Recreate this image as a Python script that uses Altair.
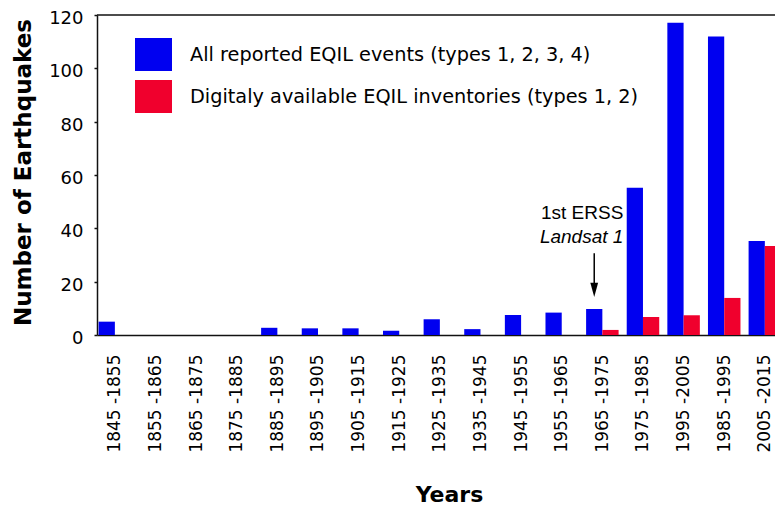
import altair as alt
import pandas as pd

categories = ["1845 -1855", "1855 -1865", "1865 -1875", "1875 -1885", "1885 -1895",
              "1895 -1905", "1905 -1915", "1915 -1925", "1925 -1935", "1935 -1945",
              "1945 -1955", "1955 -1965", "1965 -1975", "1975 -1985", "1995 -2005",
              "1985 -1995", "2005 -2015"]
all_events = [5.0, 0, 0, 0, 2.7, 2.5, 2.5, 1.6, 5.9, 2.2, 7.5, 8.4, 9.75, 55.2, 117.1, 111.9, 35.25]
digital = [0, 0, 0, 0, 0, 0, 0, 0, 0, 0, 0, 0, 1.9, 6.75, 7.4, 13.9, 33.4]
series_names = ["All reported EQIL events (types 1, 2, 3, 4)",
                "Digitaly available EQIL inventories (types 1, 2)"]
colors = ["#0000F0", "#F0002D"]
y_ticks = [0, 20, 40, 60, 80, 100, 120]

annot_category = "1965 -1975"
annot_lines = ["1st ERSS", "Landsat 1"]
annot_y = [45.75, 36.75]
arrow_start = 30.7
arrow_tip = 16.9

# part of a category slot taken by one bar
bar_w = 0.4

rows = []
for i, (c, a, d) in enumerate(zip(categories, all_events, digital)):
    rows.append({"idx": i, "category": c, "series": series_names[0], "value": a, "side": -1})
    rows.append({"idx": i, "category": c, "series": series_names[1], "value": d, "side": 1})
df = pd.DataFrame(rows)

label_expr = "[" + ",".join("'" + c + "'" for c in categories) + "][datum.value]"

xscale = alt.Scale(domain=[-0.44, 16.25], nice=False, zero=False)
yscale = alt.Scale(domain=[0, 120], nice=False)
axis_color = "#111111"

x_axis = alt.Axis(title="Years", titleFont="DejaVu Sans", titleFontSize=22,
                  titleFontWeight="bold", titleColor="black",
                  titleX=352, titleY=166, titleBaseline="alphabetic", titleAlign="center",
                  values=list(range(len(categories))), labelExpr=label_expr,
                  labelAngle=270, labelAlign="right", labelBaseline="middle",
                  labelFont="DejaVu Sans", labelFontSize=17, labelColor="black",
                  labelPadding=19, ticks=False, tickSize=0, grid=False,
                  domainColor=axis_color, domainWidth=1.5, labelOverlap=False,
                  labelFlush=False)

y_axis = alt.Axis(title="Number of Earthquakes", values=y_ticks, grid=False,
                  titleFont="DejaVu Sans", titleFontSize=23, titleFontWeight="bold",
                  titleColor="black", titleX=-67, titleY=157, titleAngle=270,
                  titleBaseline="alphabetic", titleAlign="center",
                  labelFont="DejaVu Sans", labelFontSize=18, labelColor="black",
                  labelPadding=11, labelOffset=3.5, tickSize=3, tickColor=axis_color,
                  tickWidth=1.5, domainColor=axis_color, domainWidth=1.5)

legend = alt.Legend(title=None, orient="none", legendX=38, legendY=21,
                    symbolType="M-1,-0.89L1,-0.89L1,0.89L-1,0.89Z", symbolSize=1369,
                    symbolStrokeWidth=0, symbolOpacity=1,
                    labelFont="DejaVu Sans", labelFontSize=19.3,
                    labelColor="black", labelOffset=18, labelLimit=700,
                    rowPadding=7, padding=0)

bars = alt.Chart(df).transform_calculate(
    x0=f"datum.side < 0 ? datum.idx - {bar_w} : datum.idx",
    x1=f"datum.side < 0 ? datum.idx : datum.idx + {bar_w}",
).mark_bar(clip=True).encode(
    x=alt.X("x0:Q", scale=xscale, axis=x_axis),
    x2="x1:Q",
    y=alt.Y("value:Q", scale=yscale, axis=y_axis),
    y2=alt.datum(0),
    color=alt.Color("series:N", scale=alt.Scale(domain=series_names, range=colors),
                    legend=legend),
)

annot_idx = categories.index(annot_category)
text_df1 = pd.DataFrame({"idx": [annot_idx], "y": [annot_y[0]], "t": [annot_lines[0]]})
text_df2 = pd.DataFrame({"idx": [annot_idx], "y": [annot_y[1]], "t": [annot_lines[1]]})

t1 = alt.Chart(text_df1).mark_text(align="right", baseline="middle", dx=21,
                                   font="Liberation Sans", fontSize=19, color="black").encode(
    x=alt.X("idx:Q", scale=xscale),
    y=alt.Y("y:Q", scale=yscale),
    text="t:N")
t2 = alt.Chart(text_df2).mark_text(align="right", baseline="middle", dx=21,
                                   font="Liberation Sans", fontSize=19, fontStyle="italic",
                                   color="black").encode(
    x=alt.X("idx:Q", scale=xscale),
    y=alt.Y("y:Q", scale=yscale),
    text="t:N")

arrow_df = pd.DataFrame({"idx": [annot_idx], "y1": [arrow_start], "y2": [arrow_tip]})
arrow_line = alt.Chart(arrow_df).transform_calculate(
    xa=f"datum.idx - {bar_w / 2}"
).mark_rule(color="black", strokeWidth=1.5).encode(
    x=alt.X("xa:Q", scale=xscale),
    y=alt.Y("y1:Q", scale=yscale),
    y2="y2:Q")
arrow_head = alt.Chart(arrow_df).transform_calculate(
    xa=f"datum.idx - {bar_w / 2}"
).mark_point(shape="M-0.55,-1L0,1L0.55,-1Z", filled=True,
             size=200, color="black", opacity=1, strokeWidth=0).encode(
    x=alt.X("xa:Q", scale=xscale),
    y=alt.Y("y2:Q", scale=yscale))

top_line = alt.Chart(pd.DataFrame({"a": [0]})).mark_rule(color=axis_color, strokeWidth=1.5).encode(
    x=alt.value(0), x2=alt.value(700), y=alt.value(0))

chart = alt.layer(bars, t1, t2, arrow_line, arrow_head, top_line).properties(
    width=678, height=320,
    autosize=alt.AutoSizeParams(type="none"),
    padding={"left": 89, "top": 7, "right": 0, "bottom": 171},
).configure_view(stroke=None)

chart.save("out.html", embed_options={"renderer": "svg", "actions": False})
